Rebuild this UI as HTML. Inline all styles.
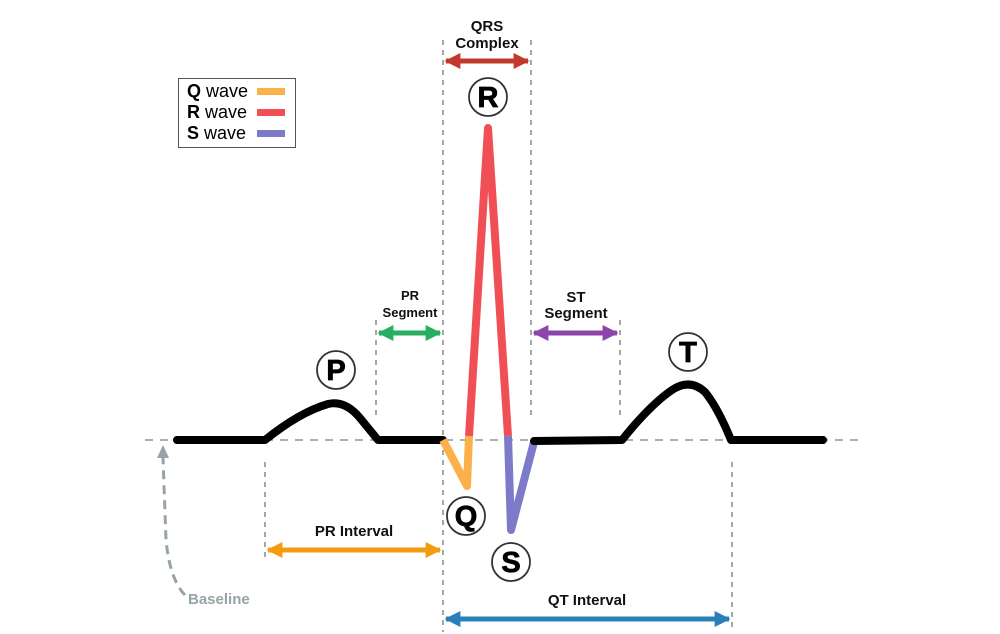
<!DOCTYPE html>
<html><head><meta charset="utf-8"><style>
html,body{margin:0;padding:0;background:#fff}
svg{display:block;font-family:"Liberation Sans",sans-serif;font-weight:bold}
</style></head><body>
<svg width="1000" height="634" viewBox="0 0 1000 634" xmlns="http://www.w3.org/2000/svg">
<defs>
<marker id="ah" viewBox="0 0 10 10" refX="9" refY="5" markerWidth="3.2" markerHeight="3.2" orient="auto-start-reverse"><path d="M0,0 L10,5 L0,10 z" fill="context-stroke"/></marker>
</defs>
<line x1="145" y1="440" x2="858" y2="440" stroke="#8a9a9a" stroke-width="1.6" stroke-dasharray="8,7"/>
<g stroke="#777" stroke-width="1.3" stroke-dasharray="5,5">
<line x1="443" y1="40" x2="443" y2="632"/>
<line x1="531" y1="40" x2="531" y2="420"/>
<line x1="376" y1="320" x2="376" y2="418"/>
<line x1="620" y1="320" x2="620" y2="420"/>
<line x1="265" y1="462" x2="265" y2="562"/>
<line x1="732" y1="462" x2="732" y2="632"/>
</g>
<g fill="none" stroke-linecap="round" stroke-linejoin="round" stroke-width="8">
<path d="M177,440 L265,440 Q300,412 328,404 Q345,400 360,418 L378,440 L443,440" stroke="#000"/>
<path d="M443,440 L467,486 L469,436" stroke="#fbb04a" stroke-linecap="butt"/>
<path d="M469,436 L488,128 L508,436" stroke="#ef4f55" stroke-linecap="butt"/>
<path d="M508,436 L511,530 L534,442" stroke="#7b7bc9" stroke-linecap="butt"/>
<path d="M534,441 L622,440 Q650,405 672,390 Q690,378 705,392 Q718,408 731,440 L823,440" stroke="#000"/>
</g>
<g stroke-width="5" marker-start="url(#ah)" marker-end="url(#ah)">
<line x1="446" y1="61" x2="528" y2="61" stroke="#c0392b"/>
<line x1="379" y1="333" x2="440" y2="333" stroke="#27ae60"/>
<line x1="534" y1="333" x2="617" y2="333" stroke="#8e44ad"/>
<line x1="268" y1="550" x2="440" y2="550" stroke="#f39c12"/>
<line x1="446" y1="619" x2="729" y2="619" stroke="#2980b9"/>
</g>
<g font-size="15" text-anchor="middle" fill="#111">
<text x="487" y="31">QRS</text><text x="487" y="48">Complex</text>
<text x="410" y="300" font-size="13">PR</text><text x="410" y="317" font-size="13">Segment</text>
<text x="576" y="302">ST</text><text x="576" y="318">Segment</text>
<text x="354" y="536">PR Interval</text>
<text x="587" y="605">QT Interval</text>
</g>
<g fill="#fff" stroke="#333" stroke-width="1.8">
<circle cx="488" cy="97" r="19"/><circle cx="336" cy="370" r="19"/><circle cx="688" cy="352" r="19"/>
<circle cx="466" cy="516" r="19"/><circle cx="511" cy="562" r="19"/>
</g>
<g font-size="29" text-anchor="middle" fill="#000" stroke="#000" stroke-width="0.8">
<text x="488" y="107">R</text><text x="336" y="380">P</text><text x="688" y="362">T</text>
<text x="466" y="526">Q</text><text x="511" y="572">S</text>
</g>
<rect x="178.5" y="78.5" width="117" height="69" fill="#fff" stroke="#555" stroke-width="1"/>
<g font-size="18">
<text x="187" y="97">Q <tspan font-weight="normal">wave</tspan></text>
<text x="187" y="118">R <tspan font-weight="normal">wave</tspan></text>
<text x="187" y="139">S <tspan font-weight="normal">wave</tspan></text>
</g>
<rect x="257" y="88" width="28" height="7" fill="#fbb04a"/>
<rect x="257" y="109" width="28" height="7" fill="#ef4f55"/>
<rect x="257" y="130" width="28" height="7" fill="#7b7bc9"/>
<path d="M185,595 Q170,580 166,540 L163,458" fill="none" stroke="#95a5a6" stroke-width="3" stroke-dasharray="9,6"/>
<path d="M157,458 L163,445 L169,458 z" fill="#95a5a6"/>
<text x="188" y="604" font-size="15" fill="#95a5a6">Baseline</text>
</svg>
</body></html>
